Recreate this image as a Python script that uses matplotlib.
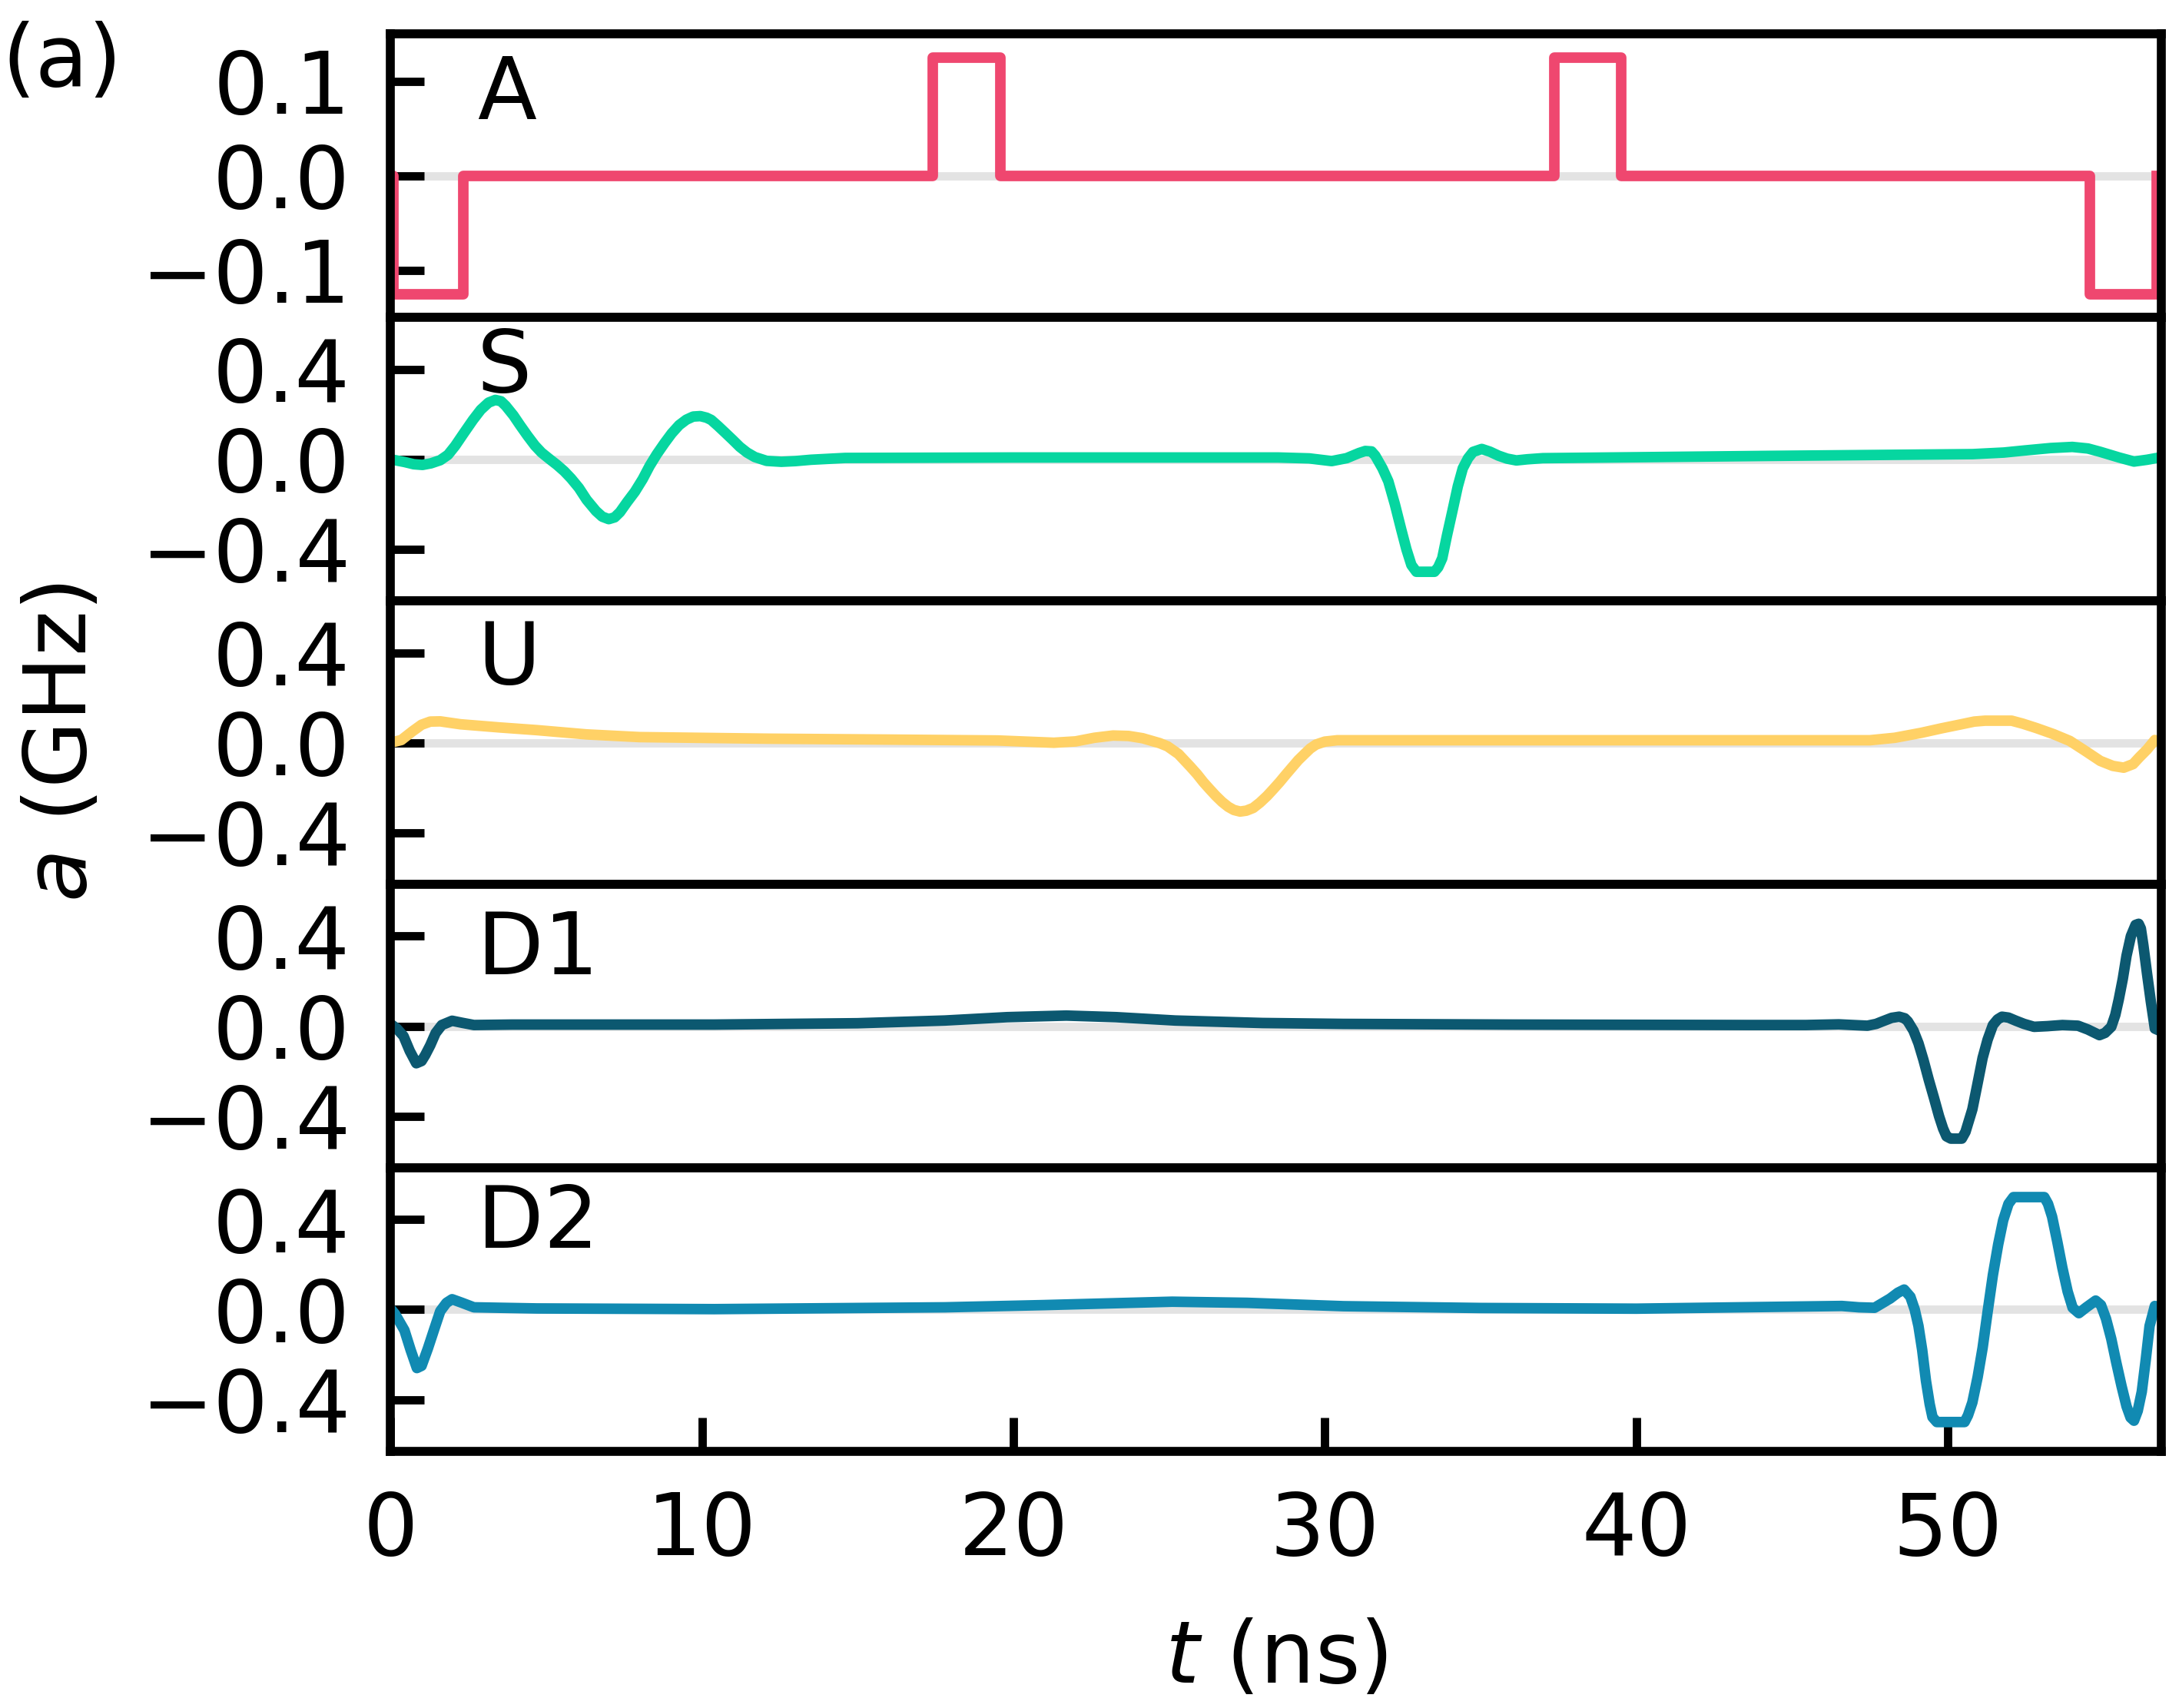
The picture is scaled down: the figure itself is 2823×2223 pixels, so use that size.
import numpy as np
import matplotlib.pyplot as plt

# --- data ------------------------------------------------------------------
# A: piecewise constant pulse (steps-post)
A_t = [0.0, 0.1, 2.34, 17.42, 19.58, 37.37, 39.51, 54.56, 56.72]
A_v = [0.0, -0.125, 0.0, 0.125, 0.0, 0.125, 0.0, -0.125, 0.0]

S_t = [0.0, 0.45, 0.75, 1.03, 1.3, 1.6, 1.85, 2.08, 2.35, 2.65, 2.9, 3.15, 3.37,
       3.55, 3.7, 3.95, 4.16, 4.4, 4.64, 4.85, 5.1, 5.35, 5.58, 5.8, 6.05, 6.3,
       6.6, 6.8, 7.01, 7.2, 7.37, 7.6, 7.85, 8.1, 8.32, 8.55, 8.8, 9.03, 9.27,
       9.5, 9.72, 9.95, 10.15, 10.3, 10.52, 10.75, 11.0, 11.22, 11.45, 11.7,
       12.08, 12.55, 13.0, 13.5, 14.6, 20.0, 26.0, 28.5, 29.5, 30.22, 30.7,
       31.1, 31.3, 31.5, 31.62, 31.85, 32.04, 32.25, 32.45, 32.62, 32.78, 32.94,
       33.52, 33.64, 33.77, 33.92, 34.1, 34.27, 34.43, 34.6, 34.76, 35.04, 35.3,
       35.58, 35.85, 36.15, 36.5, 37.0, 44.2, 50.8, 51.8, 52.45, 53.3, 54.0,
       54.5, 54.9, 55.5, 55.98, 56.4, 56.8]
S_v = [0.0, -0.012, -0.022, -0.025, -0.018, -0.004, 0.02, 0.06, 0.115, 0.175,
       0.22, 0.252, 0.264, 0.258, 0.238, 0.195, 0.152, 0.105, 0.061, 0.03,
       0.002, -0.025, -0.053, -0.085, -0.127, -0.18, -0.23, -0.255, -0.266,
       -0.258, -0.235, -0.19, -0.144, -0.088, -0.03, 0.022, 0.072, 0.115, 0.152,
       0.176, 0.19, 0.192, 0.185, 0.175, 0.148, 0.118, 0.085, 0.055, 0.03, 0.01,
       -0.007, -0.011, -0.008, -0.002, 0.006, 0.008, 0.008, 0.008, 0.004, -0.008,
       0.005, 0.028, 0.037, 0.035, 0.016, -0.04, -0.098, -0.2, -0.31, -0.4,
       -0.47, -0.5, -0.5, -0.48, -0.44, -0.34, -0.228, -0.12, -0.04, 0.005,
       0.033, 0.046, 0.034, 0.016, 0.003, -0.005, 0.0, 0.005, 0.015, 0.023,
       0.03, 0.039, 0.05, 0.055, 0.048, 0.033, 0.008, -0.01, -0.002, 0.008]

U_t = [0.0, 0.35, 0.7, 1.0, 1.28, 1.6, 2.25, 3.5, 4.7, 6.3, 8.0, 12.1, 16.0,
       19.5, 21.3, 22.0, 22.6, 23.2, 23.7, 24.15, 24.45, 24.7, 24.95, 25.3,
       25.68, 25.9, 26.1, 26.3, 26.5, 26.7, 26.9, 27.08, 27.28, 27.48, 27.7,
       27.92, 28.15, 28.35, 28.55, 28.76, 28.97, 29.15, 29.35, 29.53, 29.72,
       30.0, 30.4, 36.8, 44.2, 47.5, 48.3, 49.15, 49.8, 50.4, 50.85, 51.2,
       52.05, 52.4, 52.85, 53.4, 53.92, 54.4, 54.9, 55.3, 55.65, 55.95, 56.15,
       56.4, 56.65, 56.8]
U_v = [0.0, 0.012, 0.05, 0.08, 0.094, 0.095, 0.082, 0.068, 0.056, 0.037, 0.025,
       0.018, 0.014, 0.01, 0.0, 0.006, 0.022, 0.032, 0.03, 0.02, 0.008, -0.002,
       -0.016, -0.05, -0.106, -0.14, -0.175, -0.206, -0.236, -0.263, -0.285,
       -0.299, -0.306, -0.302, -0.29, -0.266, -0.236, -0.206, -0.175, -0.14,
       -0.106, -0.077, -0.05, -0.026, -0.008, 0.005, 0.011, 0.011, 0.011, 0.011,
       0.022, 0.044, 0.064, 0.081, 0.094, 0.098, 0.098, 0.085, 0.065, 0.038,
       0.008, -0.035, -0.081, -0.103, -0.111, -0.095, -0.065, -0.03, 0.012,
       0.005]

D1_t = [0.0, 0.2, 0.42, 0.62, 0.83, 1.0, 1.12, 1.28, 1.45, 1.65, 1.98, 2.3,
        2.68, 3.9, 10.4, 15.0, 17.8, 19.8, 21.7, 23.3, 25.2, 28.0, 30.6, 36.0,
        43.6, 45.45, 46.5, 47.1, 47.42, 47.7, 47.9, 48.2, 48.44, 48.62, 48.72,
        48.9, 49.06, 49.22, 49.39, 49.56, 49.72, 49.85, 49.96, 50.1, 50.45,
        50.57, 50.68, 50.79, 50.95, 51.12, 51.28, 51.45, 51.6, 51.74, 51.95,
        52.19, 52.45, 52.77, 53.2, 53.68, 54.18, 54.5, 54.87, 55.05, 55.25,
        55.38, 55.49, 55.62, 55.74, 55.88, 56.03, 56.13, 56.2, 56.28, 56.4,
        56.52, 56.65, 56.8]
D1_v = [0.01, -0.01, -0.044, -0.11, -0.165, -0.155, -0.128, -0.085, -0.031,
        0.005, 0.024, 0.015, 0.005, 0.007, 0.007, 0.013, 0.025, 0.04, 0.047,
        0.04, 0.025, 0.014, 0.01, 0.007, 0.005, 0.005, 0.008, 0.004, 0.002,
        0.01, 0.021, 0.037, 0.042, 0.035, 0.021, -0.02, -0.076, -0.15, -0.238,
        -0.32, -0.4, -0.455, -0.49, -0.5, -0.5, -0.47, -0.42, -0.37, -0.26,
        -0.141, -0.06, 0.005, 0.03, 0.042, 0.038, 0.024, 0.01, -0.003, 0.0,
        0.005, 0.002, -0.015, -0.04, -0.03, -0.003, 0.05, 0.118, 0.21, 0.313,
        0.4, 0.45, 0.455, 0.434, 0.36, 0.232, 0.11, -0.011, -0.02]

D2_t = [0.0, 0.15, 0.45, 0.65, 0.85, 1.0, 1.2, 1.4, 1.6, 1.8, 1.98, 2.3, 2.68,
        4.7, 10.4, 17.8, 21.0, 25.1, 27.5, 30.6, 35.0, 40.0, 46.6, 47.15, 47.65,
        48.15, 48.4, 48.6, 48.8, 48.94, 49.06, 49.18, 49.3, 49.42, 49.51, 49.65,
        50.54, 50.65, 50.79, 50.96, 51.12, 51.28, 51.45, 51.62, 51.78, 51.95,
        52.11, 53.1, 53.22, 53.35, 53.52, 53.68, 53.85, 54.01, 54.21, 54.45,
        54.75, 54.92, 55.08, 55.25, 55.41, 55.58, 55.74, 55.87, 55.98, 56.1,
        56.23, 56.36, 56.48, 56.65, 56.8]
D2_v = [0.005, -0.02, -0.092, -0.18, -0.26, -0.25, -0.174, -0.09, -0.007,
        0.03, 0.046, 0.03, 0.01, 0.005, 0.002, 0.01, 0.02, 0.035, 0.03, 0.015,
        0.007, 0.004, 0.016, 0.01, 0.008, 0.049, 0.075, 0.089, 0.057, 0.0,
        -0.073, -0.18, -0.316, -0.42, -0.478, -0.5, -0.5, -0.47, -0.413, -0.3,
        -0.17, -0.01, 0.154, 0.29, 0.397, 0.47, 0.5, 0.5, 0.47, 0.413, 0.3,
        0.186, 0.08, 0.008, -0.016, 0.01, 0.04, 0.02, -0.04, -0.13, -0.235,
        -0.34, -0.43, -0.48, -0.494, -0.45, -0.365, -0.22, -0.073, 0.016, 0.01]

names = ["A", "S", "U", "D1", "D2"]
colors = ["#EF476F", "#06D6A0", "#FFD166", "#0C5870", "#118AB2"]
series = [(A_t, A_v), (S_t, S_v), (U_t, U_v), (D1_t, D1_v), (D2_t, D2_v)]
label_y = [0.70, 0.737, 0.707, 0.683, 0.718]

plt.rcParams['font.family'] = ['DejaVu Sans']
plt.rcParams['font.size'] = 27
plt.rcParams['mathtext.fontset'] = 'dejavusans'

fig, axes = plt.subplots(5, 1, sharex=True, figsize=(9.41, 7.41),
                         gridspec_kw={'hspace': 0})
fig.subplots_adjust(left=0.18, right=0.9965, top=0.980, bottom=0.1503)

for i, ax in enumerate(axes):
    t, v = series[i]
    ax.axhline(0, color='#e3e3e3', lw=2.6, zorder=1)
    if i == 0:
        ax.plot(t, v, color=colors[i], lw=3.3, drawstyle='steps-post', zorder=2)
        ax.set_ylim(-0.15, 0.15)
        ax.set_yticks([-0.1, 0.0, 0.1])
    else:
        ax.plot(t, v, color=colors[i], lw=3.3, zorder=2, solid_joinstyle='round')
        ax.set_ylim(-0.63, 0.63)
        ax.set_yticks([-0.4, 0.0, 0.4])
    ax.text(0.049, label_y[i], names[i], transform=ax.transAxes,
            fontsize=27, va='baseline', ha='left')
    for sp in ax.spines.values():
        sp.set_linewidth(2.8)
    ax.tick_params(axis='y', direction='in', length=10.5, width=2.6, pad=12.5,
                   labelsize=27)
    if i < 4:
        ax.tick_params(axis='x', bottom=False, labelbottom=False)

axes[-1].set_xlim(0, 56.86)
axes[-1].set_xticks([0, 10, 20, 30, 40, 50])
axes[-1].tick_params(axis='x', direction='in', length=10.5, width=2.6, pad=12,
                     labelsize=27)
axes[-1].set_xlabel('$t$ (ns)', fontsize=27, labelpad=14)

fig.text(0.0287, 0.5655, '$a$ (GHz)', rotation=90, ha='center', va='center',
         fontsize=27)
fig.text(0.001, 0.988, '(a)', ha='left', va='top', fontsize=27)

fig.savefig('out.png', dpi=300)
